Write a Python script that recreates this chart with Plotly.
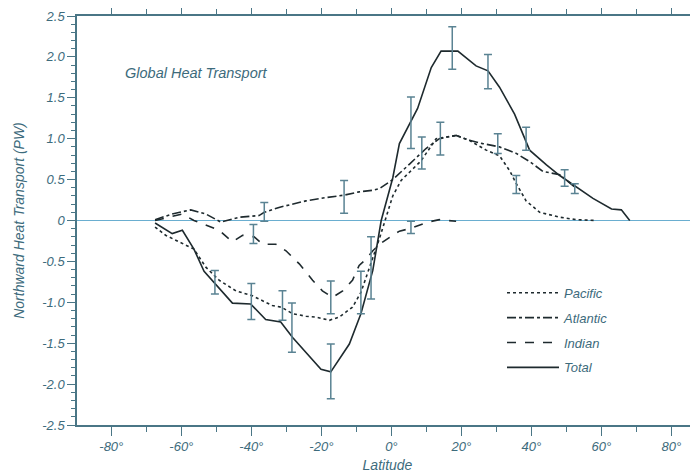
import plotly.graph_objects as go

# ---- data ----
total_lat = [-67.5, -62.6, -59.7, -56.4, -53.5, -50.2, -45.4, -40.2, -35.9, -31.6, -28.2, -20.1, -17.3,
             -12.0, -8.7, -5.3, -2.9, 0.4, 2.3, 7.5, 11.4, 14.2, 19.0, 24.2, 27.6, 30.9, 35.2, 39.5,
             44.3, 48.1, 52.9, 57.6, 62.9, 65.7, 68.1]
total_val = [-0.03, -0.16, -0.12, -0.35, -0.62, -0.78, -1.01, -1.02, -1.21, -1.24, -1.43, -1.82, -1.85,
             -1.51, -1.14, -0.61, 0.0, 0.52, 0.94, 1.37, 1.87, 2.07, 2.07, 1.89, 1.83, 1.63, 1.30, 0.86,
             0.68, 0.55, 0.41, 0.27, 0.14, 0.13, 0.0]

pacific_lat = [-67.5, -64.5, -56.4, -53.0, -49.2, -44.4, -39.7, -34.0, -31.4, -28.2, -24.4, -21.6, -17.7,
               -14.9, -13.0, -11.1, -8.7, -5.3, -3.4, 0.4, 2.8, 8.5, 12.8, 18.5, 22.3, 27.1, 30.9, 33.8,
               35.7, 38.5, 42.4, 48.1, 52.9, 58.6]
pacific_val = [-0.08, -0.18, -0.35, -0.57, -0.73, -0.86, -0.92, -1.04, -1.06, -1.14, -1.17, -1.18, -1.22,
               -1.18, -1.12, -1.06, -0.88, -0.45, -0.22, 0.30, 0.49, 0.73, 1.00, 1.04, 0.98, 0.86, 0.79, 0.61,
               0.45, 0.24, 0.10, 0.04, 0.01, 0.0]

atlantic_lat = [-67.5, -62.6, -57.3, -53.0, -48.7, -43.5, -37.8, -36.3, -32.1, -24.4, -18.7, -13.5, -9.2,
                -5.3, -3.4, 0.4, 5.2, 9.9, 13.7, 18.5, 22.3, 26.1, 30.9, 35.7, 39.5, 43.3, 48.1, 52.9]
atlantic_val = [0.01, 0.08, 0.13, 0.08, -0.02, 0.04, 0.06, 0.10, 0.16, 0.24, 0.28, 0.31, 0.35,
                0.37, 0.39, 0.50, 0.69, 0.88, 1.00, 1.04, 0.98, 0.94, 0.90, 0.82, 0.72, 0.60, 0.56, 0.39]

indian_lat = [-67.5, -59.7, -56.4, -53.0, -49.2, -45.4, -42.5, -39.2, -36.8, -33.0, -30.1, -26.3, -22.5,
              -19.7, -16.8, -13.9, -11.1, -9.2, -7.2, -5.3, -3.4, 0.4, 2.3, 5.2, 10.4, 13.7, 18.5]
indian_val = [0.0, 0.08, 0.0, -0.06, -0.12, -0.26, -0.18, -0.20, -0.29, -0.29, -0.37, -0.53, -0.73,
              -0.86, -0.94, -0.86, -0.73, -0.55, -0.47, -0.37, -0.29, -0.18, -0.13, -0.10, -0.02, 0.01, -0.01]

bar_lat = [-50.4, -40.0, -39.4, -36.3, -31.1, -28.4, -17.3, -17.3, -13.5, -8.7, -5.8,
           5.6, 5.6, 8.7, 14.0, 17.4, 27.6, 30.4, 35.7, 38.5, 49.5, 52.4]
bar_top = [-0.61, -0.77, -0.05, 0.22, -0.86, -1.01, -0.74, -1.51, 0.49, -0.62, -0.20,
           1.51, -0.01, 1.02, 1.20, 2.37, 2.03, 1.06, 0.55, 1.14, 0.62, 0.45]
bar_bottom = [-0.90, -1.21, -0.28, -0.01, -1.22, -1.61, -1.14, -2.18, 0.09, -1.14, -0.96,
              0.88, -0.16, 0.63, 0.80, 1.85, 1.61, 0.82, 0.33, 0.86, 0.42, 0.33]

x_ticks = [-80, -60, -40, -20, 0, 20, 40, 60, 80]
x_labels = ["-80°", "-60°", "-40°", "-20°", "0°", "20°", "40°", "60°", "80°"]
y_ticks = [2.5, 2.0, 1.5, 1.0, 0.5, 0, -0.5, -1.0, -1.5, -2.0, -2.5]
y_labels = ["2.5", "2.0", "1.5", "1.0", "0.5", "0", "-0.5", "-1.0", "-1.5", "-2.0", "-2.5"]

# ---- style ----
LINE = "#1e2a2e"
BAR = "#5a8393"
AXIS = "#4a7686"
TEXT = "#3d6b7c"
ZERO = "#6aaed0"
FONT = "Liberation Sans"

fig = go.Figure()

series = [
    ("Pacific", pacific_lat, pacific_val, "dot"),
    ("Atlantic", atlantic_lat, atlantic_val, "dashdot"),
    ("Indian", indian_lat, indian_val, "dash"),
    ("Total", total_lat, total_val, "solid"),
]
for name, xs, ys, dash in series:
    fig.add_trace(go.Scatter(
        x=xs, y=ys, mode="lines", name="<i>" + name + "</i>", legendgroup=name,
        line=dict(color=LINE, width=1.6, dash=dash),
    ))

center = [(t + b) / 2 for t, b in zip(bar_top, bar_bottom)]
half = [(t - b) / 2 for t, b in zip(bar_top, bar_bottom)]
fig.add_trace(go.Scatter(
    x=bar_lat, y=center, mode="markers", showlegend=False, hoverinfo="skip",
    marker=dict(size=1, color="rgba(0,0,0,0)"),
    error_y=dict(type="data", array=half, visible=True, color=BAR, thickness=1.5, width=4),
))

fig.add_annotation(
    x=-76.8, y=1.80, xref="x", yref="y", xanchor="left", yanchor="middle",
    text="<i>Global Heat Transport</i>", showarrow=False,
    font=dict(family=FONT, size=14.5, color=TEXT),
)

fig.update_layout(
    width=690, height=467,
    margin=dict(l=69, r=0, t=8, b=50, autoexpand=False),
    paper_bgcolor="white", plot_bgcolor="white",
    font=dict(family=FONT, size=13, color=TEXT),
    showlegend=True,
    legend=dict(
        x=(494 - 69) / 621, y=0.36, xanchor="left", yanchor="top",
        bgcolor="rgba(0,0,0,0)", font=dict(family=FONT, size=13, color=TEXT),
        traceorder="grouped", tracegroupgap=5, itemwidth=52,
    ),
    xaxis=dict(
        range=[-89.8, 87.6], showgrid=False, zeroline=False, automargin=False,
        showline=True, linecolor=AXIS, linewidth=1.5, mirror="ticks",
        ticks="outside", ticklen=9, tickwidth=1.2, tickcolor=AXIS,
        tickvals=x_ticks, ticktext=["<i>" + t + "</i>" for t in x_labels],
        tickfont=dict(family=FONT, size=13, color=TEXT),
        minor=dict(dtick=10, tick0=0, ticks="outside", ticklen=5, tickwidth=1.2, tickcolor=AXIS, showgrid=False),
        title=dict(text="<i>Latitude</i>", font=dict(family=FONT, size=14, color=TEXT), standoff=7),
    ),
    yaxis=dict(
        range=[-2.5, 2.5], showgrid=False, automargin=False,
        zeroline=True, zerolinecolor=ZERO, zerolinewidth=1.2,
        showline=True, linecolor=AXIS, linewidth=1.5,
        ticks="outside", ticklen=8, tickwidth=1.2, tickcolor=AXIS,
        tickvals=y_ticks, ticktext=["<i>" + t + "</i>" for t in y_labels],
        tickfont=dict(family=FONT, size=13, color=TEXT),
        minor=dict(dtick=0.1, tick0=0, ticks="outside", ticklen=4, tickwidth=1.0, tickcolor=AXIS, showgrid=False),
        title=dict(text="<i>Northward Heat Transport (PW)</i>", font=dict(family=FONT, size=14, color=TEXT), standoff=14),
    ),
)

fig.write_html("out.html")
